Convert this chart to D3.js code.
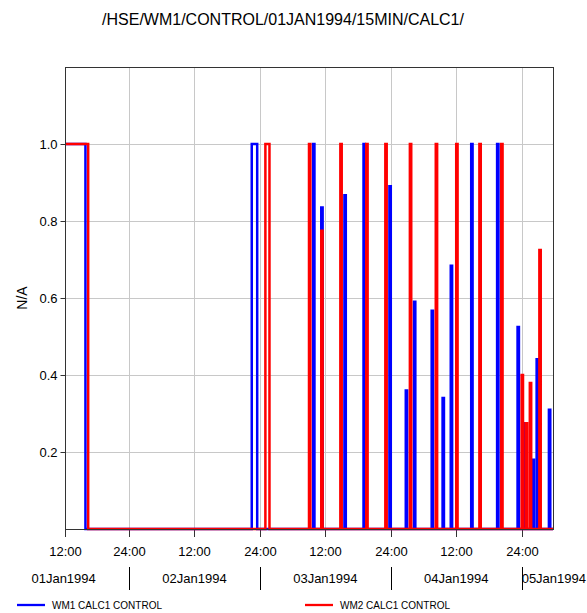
<!DOCTYPE html>
<html>
<head>
<meta charset="utf-8">
<script src="https://cdn.jsdelivr.net/npm/d3@7"></script>
<style>
  html, body { margin: 0; padding: 0; background: #fff; }
  svg { display: block; font-family: "Liberation Sans", Arial, sans-serif; }
</style>
</head>
<body>
<svg id="chart" width="587" height="613"></svg>
<script>
// 15-minute CALC1 control series, stored as step change points:
// each value holds from its time until the next time.
const wm1Times = [
  "01Jan1994 12:15", "01Jan1994 16:00",
  "02Jan1994 22:30", "02Jan1994 23:30",
  "03Jan1994 09:45", "03Jan1994 10:00",
  "03Jan1994 11:15", "03Jan1994 11:30",
  "03Jan1994 15:30", "03Jan1994 15:45",
  "03Jan1994 19:00", "03Jan1994 19:15",
  "03Jan1994 23:45", "04Jan1994 00:00",
  "04Jan1994 02:45", "04Jan1994 03:00",
  "04Jan1994 04:15", "04Jan1994 04:30",
  "04Jan1994 07:30", "04Jan1994 07:45",
  "04Jan1994 09:30", "04Jan1994 09:45",
  "04Jan1994 11:00", "04Jan1994 11:15",
  "04Jan1994 14:45", "04Jan1994 15:00",
  "04Jan1994 19:30", "04Jan1994 19:45",
  "04Jan1994 23:15", "04Jan1994 23:30",
  "05Jan1994 00:30", "05Jan1994 00:45",
  "05Jan1994 02:00", "05Jan1994 02:15",
  "05Jan1994 02:45", "05Jan1994 03:00",
  "05Jan1994 05:00", "05Jan1994 05:15",
  "05Jan1994 05:45"
];
const wm1Values = [
  1, 0,
  1, 0,
  1, 0,
  0.835, 0,
  0.867, 0,
  1, 0,
  0.89, 0,
  0.36, 0,
  0.59, 0,
  0.567, 0,
  0.34, 0,
  0.684, 0,
  1, 0,
  1, 0,
  0.525, 0,
  0.275, 0,
  0.18, 0,
  0.441, 0,
  0.31, 0,
  0
];

const wm2Times = [
  "01Jan1994 12:15", "01Jan1994 16:30",
  "03Jan1994 01:00", "03Jan1994 01:45",
  "03Jan1994 09:00", "03Jan1994 09:15",
  "03Jan1994 11:15", "03Jan1994 11:30",
  "03Jan1994 14:45", "03Jan1994 15:00",
  "03Jan1994 19:30", "03Jan1994 19:45",
  "03Jan1994 23:00", "03Jan1994 23:15",
  "04Jan1994 03:30", "04Jan1994 03:45",
  "04Jan1994 08:15", "04Jan1994 08:30",
  "04Jan1994 12:00", "04Jan1994 12:15",
  "04Jan1994 16:15", "04Jan1994 16:30",
  "04Jan1994 20:15", "04Jan1994 20:30",
  "05Jan1994 00:00", "05Jan1994 00:15",
  "05Jan1994 00:45", "05Jan1994 01:00",
  "05Jan1994 01:30", "05Jan1994 01:45",
  "05Jan1994 03:15", "05Jan1994 03:30",
  "05Jan1994 05:45"
];
const wm2Values = [
  1, 0,
  1, 0,
  1, 0,
  0.775, 0,
  1, 0,
  1, 0,
  1, 0,
  1, 0,
  1, 0,
  1, 0,
  1, 0,
  1, 0,
  0.40, 0,
  0.275, 0,
  0.379, 0,
  0.725, 0,
  0
];

const seriesNames = ["WM1 CALC1 CONTROL", "WM2 CALC1 CONTROL"];
const seriesColors = ["#0000ff", "#ff0000"];
const titleText = "/HSE/WM1/CONTROL/01JAN1994/15MIN/CALC1/";
const yLabel = "N/A";
const yTicks = [0.2, 0.4, 0.6, 0.8, 1.0];
const timeTicks = ["01Jan1994 12:00", "02Jan1994 00:00", "02Jan1994 12:00", "03Jan1994 00:00",
                   "03Jan1994 12:00", "04Jan1994 00:00", "04Jan1994 12:00", "05Jan1994 00:00"];
const dayLabels = ["01Jan1994", "02Jan1994", "03Jan1994", "04Jan1994", "05Jan1994"];
const timeStart = "01Jan1994 12:15";
const timeEnd = "05Jan1994 05:45";

const parse = d3.utcParse("%d%b%Y %H:%M");
const parseDay = d3.utcParse("%d%b%Y");

const W = 587, H = 613;
const plot = { left: 65, right: 553, top: 67, bottom: 529 };

const svg = d3.select("#chart");

const x = d3.scaleUtc()
  .domain([parse(timeStart), parse(timeEnd)])
  .range([plot.left, plot.right]);
const y = d3.scaleLinear()
  .domain([0, 1.2])
  .range([plot.bottom, plot.top]);

const series = [
  wm1Times.map((t, i) => ({ t: parse(t), v: wm1Values[i] })),
  wm2Times.map((t, i) => ({ t: parse(t), v: wm2Values[i] }))
];

// Title
svg.append("text")
  .attr("x", 283).attr("y", 25)
  .attr("text-anchor", "middle")
  .attr("font-size", 16)
  .attr("fill", "#000")
  .text(titleText);

// Grid lines
const grid = svg.append("g").attr("stroke", "#c8c8c8").attr("stroke-width", 1);
yTicks.forEach(v => {
  const yy = Math.round(y(v)) + 0.5;
  grid.append("line").attr("x1", plot.left).attr("x2", plot.right).attr("y1", yy).attr("y2", yy);
});
timeTicks.forEach(s => {
  const xx = Math.round(x(parse(s))) + 0.5;
  if (xx <= plot.left + 2) return;
  grid.append("line").attr("x1", xx).attr("x2", xx).attr("y1", plot.top).attr("y2", plot.bottom);
});

// Y axis
const yAxis = d3.axisLeft(y).tickValues(yTicks).tickFormat(d3.format(".1f")).tickSize(5).tickPadding(3);
const yg = svg.append("g").attr("transform", `translate(${plot.left + 0.5},0)`).call(yAxis);
yg.select(".domain").remove();
yg.selectAll("line").attr("stroke", "#333");
yg.selectAll("text").attr("font-size", 13).attr("fill", "#000")
  .attr("font-family", "Liberation Sans, Arial, sans-serif");

// Y axis label
svg.append("text")
  .attr("transform", `translate(27,${(plot.top + plot.bottom) / 2}) rotate(-90)`)
  .attr("text-anchor", "middle")
  .attr("font-size", 14)
  .attr("fill", "#000")
  .text(yLabel);

// X axis: hour ticks
const hourFmt = d => (d.getUTCHours() === 0 ? "24:00" : d3.utcFormat("%H:%M")(d));
const xg = svg.append("g");
timeTicks.forEach(s => {
  const d = parse(s);
  const xx = Math.max(plot.left, Math.round(x(d))) + 0.5;
  xg.append("line").attr("x1", xx).attr("x2", xx)
    .attr("y1", plot.bottom).attr("y2", plot.bottom + 8)
    .attr("stroke", "#333");
  xg.append("text").attr("x", xx).attr("y", 556)
    .attr("text-anchor", "middle").attr("font-size", 13).attr("fill", "#000")
    .text(hourFmt(d));
});

// X axis: day row with separators at midnight
dayLabels.forEach((s, i) => {
  const day = parseDay(s);
  const noon = d3.utcHour.offset(day, 12);
  if (i > 0) {
    const xx = Math.round(x(day)) + 0.5;
    xg.append("line").attr("x1", xx).attr("x2", xx)
      .attr("y1", 567).attr("y2", 590).attr("stroke", "#000");
  }
  const t = xg.append("text").attr("y", 583).attr("font-size", 13).attr("fill", "#000").text(s);
  const cx = x(noon);
  const w = t.node().getComputedTextLength();
  let left = cx - w / 2;
  if (left + w > W - 1) left = W - 1 - w;
  t.attr("x", left);
});

// Data lines
const line = d3.line()
  .x(d => x(d.t))
  .y(d => y(d.v))
  .curve(d3.curveStepAfter);

const lines = svg.append("g");
series.forEach((data, i) => {
  lines.append("path")
    .datum(data)
    .attr("fill", "none")
    .attr("stroke", seriesColors[i])
    .attr("stroke-width", 2.5)
    .attr("stroke-linejoin", "miter")
    .attr("d", line);
});

// Plot frame
svg.append("rect")
  .attr("x", plot.left + 0.5).attr("y", plot.top + 0.5)
  .attr("width", plot.right - plot.left).attr("height", plot.bottom - plot.top)
  .attr("fill", "none").attr("stroke", "#333").attr("stroke-width", 1);

// Legend
const legend = svg.append("g");
const legendX = [17, 305];
seriesNames.forEach((name, i) => {
  legend.append("line")
    .attr("x1", legendX[i]).attr("x2", legendX[i] + 28)
    .attr("y1", 605).attr("y2", 605)
    .attr("stroke", seriesColors[i]).attr("stroke-width", 2.3);
  legend.append("text")
    .attr("x", legendX[i] + 35).attr("y", 609)
    .attr("font-size", 10).attr("fill", "#000")
    .text(name);
});
</script>
</body>
</html>
